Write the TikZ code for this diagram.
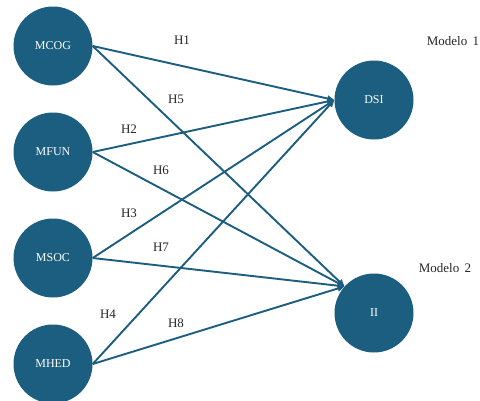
\documentclass[tikz,border=0pt]{standalone}
\usepackage{fontspec}
\setmainfont{Liberation Serif}
\usetikzlibrary{arrows.meta}
\definecolor{navy}{RGB}{27,94,128}
\begin{document}
\begin{tikzpicture}[x=1pt,y=-1pt,
  circ/.style={circle,fill=navy,minimum size=79pt,inner sep=0pt,text=white,font=\fontsize{12}{14}\selectfont},
  link/.style={draw=navy,line width=1.9pt,-{Triangle[length=7pt,width=6pt]}},
  hlab/.style={font=\fontsize{13}{15}\selectfont,text=black!85}]
\useasboundingbox (0,0) rectangle (480,400);
\node[circ] (mcog) at (53,46) {MCOG};
\node[circ] (mfun) at (53,152) {MFUN};
\node[circ] (msoc) at (53,258) {MSOC};
\node[circ] (mhed) at (53,364) {MHED};
\node[circ] (dsi) at (374,100) {DSI};
\node[circ] (ii) at (374,313) {II};
\coordinate (dsiin) at (dsi.west);
\coordinate (iiin) at (ii.138);
\draw[link] (mcog.east) -- (dsiin);
\draw[link] (mfun.east) -- (dsiin);
\draw[link] (msoc.east) -- (dsiin);
\draw[link] (mhed.east) -- (dsiin);
\draw[link] (mcog.east) -- (iiin);
\draw[link] (mfun.east) -- (iiin);
\draw[link] (msoc.east) -- (iiin);
\draw[link] (mhed.east) -- (iiin);
\node[hlab] (h1) at (182,40) {H1};
\node[hlab] (h5) at (176,99) {H5};
\node[hlab] (h2) at (129,129) {H2};
\node[hlab] (h6) at (161,170) {H6};
\node[hlab] (h3) at (129,213) {H3};
\node[hlab] (h7) at (161,247) {H7};
\node[hlab] (h4) at (108,314) {H4};
\node[hlab] (h8) at (176,323) {H8};
\node[hlab] (m1) at (453,41) {Modelo\, 1};
\node[hlab] (m2) at (445,268) {Modelo\, 2};
\end{tikzpicture}
\end{document}
